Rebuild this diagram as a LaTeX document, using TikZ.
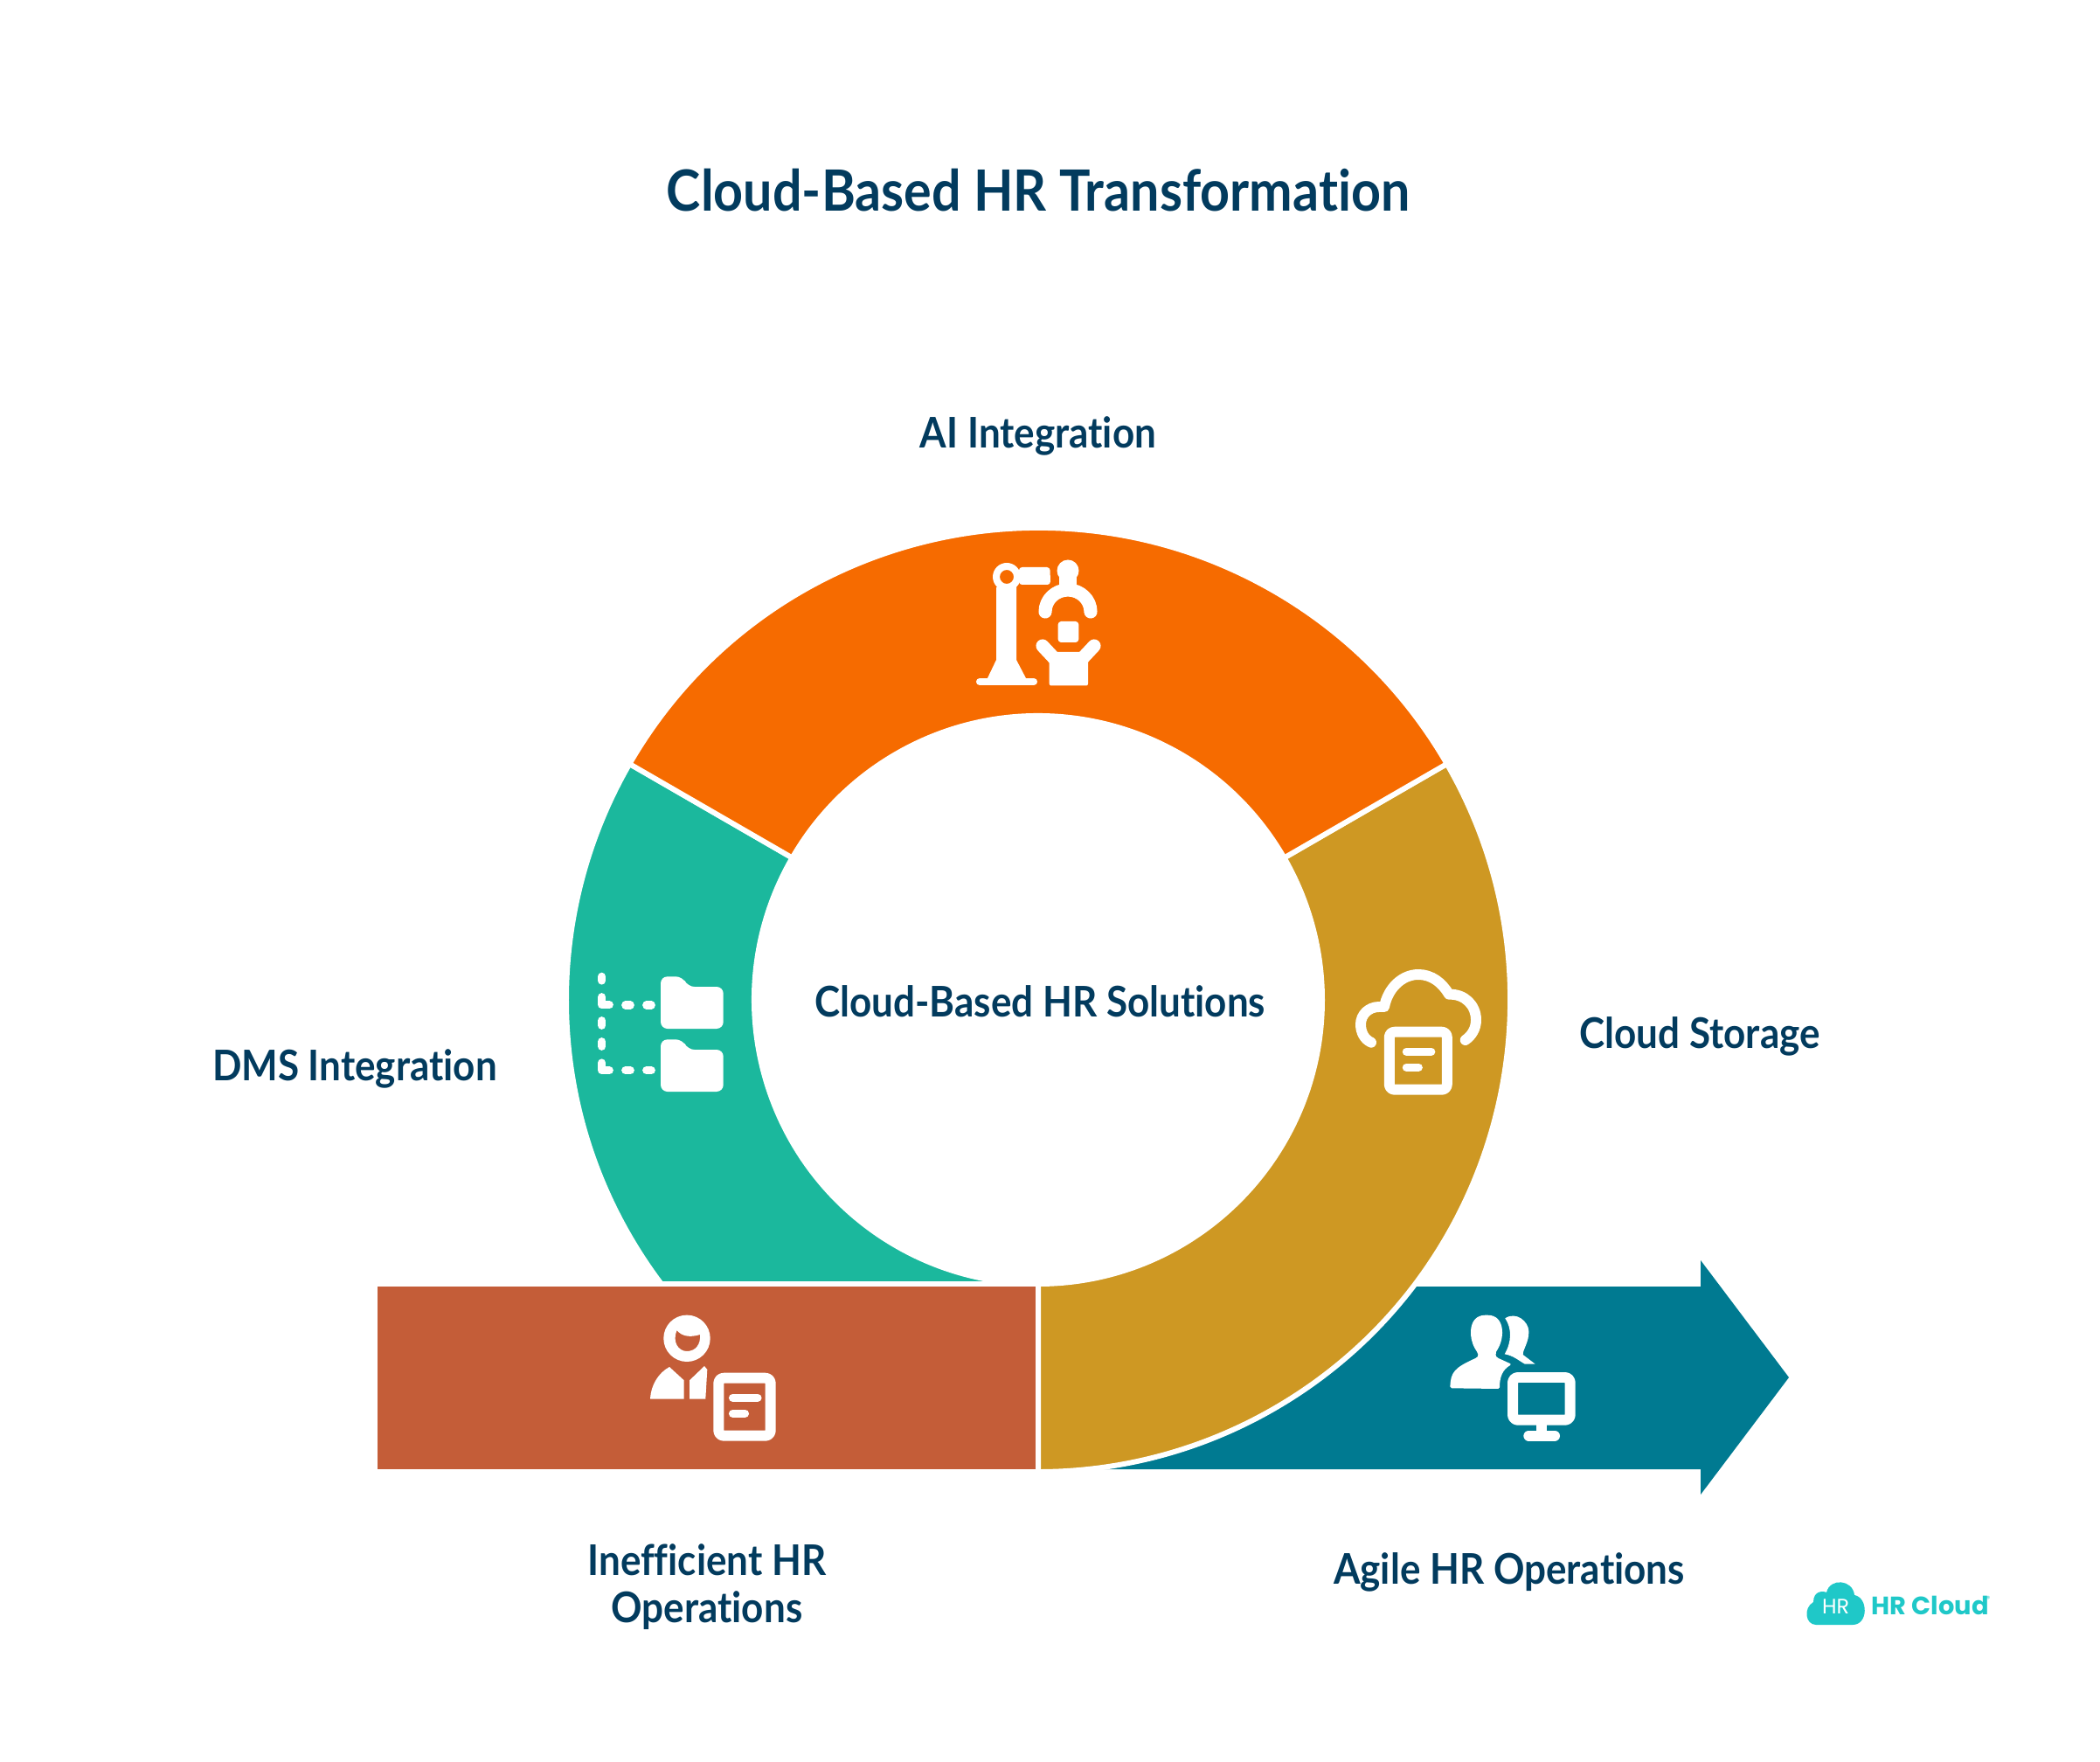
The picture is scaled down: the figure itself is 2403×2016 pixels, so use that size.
\documentclass[tikz,border=0pt]{standalone}
\usepackage{fontspec}
\setmainfont{Lato}[Ligatures=NoCommon,FakeStretch=0.91]
\newfontfamily\logofont{Poppins}
\newfontfamily\logobold{Poppins}[FakeBold=3]
\usetikzlibrary{calc}
\definecolor{navy}{HTML}{023B5E}
\definecolor{ringorange}{HTML}{F66B00}
\definecolor{ringteal}{HTML}{1BB89D}
\definecolor{ringgold}{HTML}{CE9823}
\definecolor{startred}{HTML}{C45D38}
\definecolor{endblue}{HTML}{007A91}
\definecolor{logoteal}{HTML}{1FC8C8}
\def\ringsector[#1](#2:#3){\draw[#1] ($(1188,1144)+({540*cos(#2)},{540*sin(#2)})$) arc (#2:#3:540) -- ($(1188,1144)+({325*cos(#3)},{325*sin(#3)})$) arc (#3:#2:325) -- cycle;}
\newcommand{\docicon}[3]{
	\draw[iconthick,rounded corners=1.7pt] ({#1-#3},{#2-33}) rectangle ({#1+#3},{#2+33});
	\draw[iconthin] ({#1-13.5},{#2-10.5}) -- ({#1+15},{#2-10.5});
	\draw[iconthin] ({#1-13.5},{#2+7.5}) -- ({#1+0.5},{#2+7.5});
}
\newcommand{\foldericon}[2]{
	\fill[white,rounded corners=2.2pt] (#1,{#2+59.7}) -- (#1,#2) -- ({#1+25},#2) -- ({#1+31},{#2+11.7}) -- ({#1+71.7},{#2+11.7}) -- ({#1+71.7},{#2+59.7}) -- cycle;
}
\tikzset{
	segment/.style={draw=white,line width=1.7pt,line join=round},
	label/.style={font=\fontsize{13.75}{15.4}\selectfont\bfseries,text=navy,align=center,inner sep=0pt},
	iconthick/.style={draw=white,line width=3.4pt,line cap=round,line join=round},
	iconthin/.style={draw=white,line width=2.6pt,line cap=round,line join=round},
	iconflap/.style={draw=white,line width=4.3pt,line cap=round,line join=round},
}
\begin{document}
\begin{tikzpicture}[x=0.01cm,y=-0.01cm]
	\useasboundingbox (0,0) rectangle (2403,2016);
	%%%%% ARROW %%%%%
	\fill[endblue] (1188,1472) -- (1946,1472) -- (1946,1442) -- (2047,1576) -- (1946,1710) -- (1946,1681) -- (1188,1681) -- cycle;
	
	%%%%% RING %%%%%
	\ringsector[segment,fill=ringteal](90:210)
	\draw[segment,fill=startred] (429,1469) rectangle (1188,1684);
	\ringsector[segment,fill=ringgold](-30:90)
	\ringsector[segment,fill=ringorange](-150:-30)
	
	%%%%% TEXT %%%%%
	\node[label,font=\fontsize{18.5}{22}\selectfont\bfseries] (title) at (1188,218) {Cloud-Based HR Transformation};
	\node[label] (ai) at (1188,499) {AI Integration};
	\node[label] (centre) at (1190,1146) {Cloud-Based HR Solutions};
	\node[label] (storage) at (1945,1186) {Cloud Storage};
	\node[label] (dms) at (406,1223) {DMS Integration};
	\node[label] (start) at (809,1816) {Inefficient HR\\Operations};
	\node[label] (finish) at (1727,1799) {Agile HR Operations};
	
	%%%%% ROBOT %%%%%
	\fill[white] (1140,672) -- (1163,672) -- (1163,755) -- (1175,778) -- (1129,778) -- (1140,755) -- cycle;
	\fill[white,rounded corners=1pt] (1166,649) -- (1201.5,649) -- (1202,669) -- (1166,669) -- cycle;
	\draw[iconflap,line width=2.3pt] (1121,780) -- (1183,780);
	\fill[white,even odd rule] (1152,660) circle (16) (1152,660) circle (8);
	\fill[white] (1222,653) circle (12.5);
	\fill[white] (1212,655) rectangle (1232,680);
	\draw[iconflap,line cap=round] (1196,700) arc (180:360:26 and 25);
	\fill[white,rounded corners=1pt] (1210.7,711) rectangle (1234.3,735);
	\fill[white,rounded corners=0.6pt] (1200.7,746) rectangle (1245,784.5);
	\draw[iconflap] (1193,739) -- (1207,754);
	\draw[iconflap] (1252,739) -- (1238,754);
	
	%%%%% FOLDERS %%%%%
	\draw[iconthin] (688.7,1117.3) -- (688.7,1122);
	\draw[iconthin] (688.7,1140.7) -- (688.7,1149.7) -- (697.3,1149.7);
	\draw[iconthin] (715.7,1150) -- (721.3,1150);
	\draw[iconthin] (739.7,1150) -- (745.3,1150);
	\draw[iconthin] (688.7,1167.7) -- (688.7,1173.3);
	\draw[iconthin] (688.7,1191.7) -- (688.7,1197.3);
	\draw[iconthin] (688.7,1216) -- (688.7,1224.7) -- (697.3,1224.7);
	\draw[iconthin] (715.7,1224.7) -- (721.3,1224.7);
	\draw[iconthin] (739.7,1224.7) -- (745.3,1224.7);
	\foldericon{756}{1117.3}
	\foldericon{756}{1189.3}
	
	%%%%% CLOUD %%%%%
	\draw[iconthick] (1569,1192.7) .. controls (1561,1189) and (1557,1181) .. (1557,1172) .. controls (1557,1161) and (1566,1152) .. (1578,1152) -- (1584,1152) .. controls (1588,1131) and (1604,1115) .. (1623,1115) .. controls (1638,1115) and (1650,1124) .. (1658,1137.7) .. controls (1676,1137) and (1689,1150) .. (1689,1167) .. controls (1689,1177) and (1684,1185) .. (1676.7,1190);
	\docicon{1622.8}{1213.7}{33}
	
	%%%%% PERSON %%%%%
	\fill[white,even odd rule] (786,1531.3) circle (26.7) (774.5,1522) .. controls (781,1530) and (791,1530) .. (801,1527) .. controls (802,1538) and (796,1546) .. (786,1546) .. controls (776,1546) and (769,1535) .. (774.5,1522) -- cycle;
	\fill[white] (744,1600) .. controls (745,1585) and (753,1571) .. (766,1564) -- (782.7,1579.3) -- (782.7,1600.7) -- (744,1600.7) -- cycle;
	\fill[white] (789,1579.3) -- (806,1563) -- (809.3,1567) -- (807.3,1600.7) -- (789,1600.7) -- cycle;
	\docicon{852}{1609.7}{29.7}
	
	%%%%% USERS %%%%%
	\fill[white,rounded corners=0.5pt] (1659.3,1588.3) .. controls (1660,1570) and (1664,1565) .. (1690,1553.3) .. controls (1692,1551) and (1691,1548) .. (1689,1545) .. controls (1680,1530) and (1680,1505) .. (1701,1504.7) .. controls (1722,1505) and (1722,1530) .. (1713,1545) .. controls (1711,1548) and (1712,1552) .. (1713,1553.3) -- (1730,1561) .. controls (1719,1567) and (1716,1576) .. (1716,1589) -- cycle;
	\fill[white] (1722.3,1508.3) .. controls (1735,1500) and (1749,1512) .. (1749.3,1523) .. controls (1750,1535) and (1742,1545) .. (1742.7,1550) -- (1756.7,1560.7) -- (1745,1560.7) .. controls (1738,1557) and (1732,1551) .. (1721.7,1549.3) .. controls (1730,1535) and (1730,1520) .. (1722.3,1508.3) -- cycle;
	\draw[iconthick,rounded corners=1.7pt] (1731,1576) rectangle (1796.7,1624.7);
	\draw[iconthick] (1764,1626) -- (1764,1642);
	\draw[iconthick] (1749.3,1642.7) -- (1779,1642.7);
	
	%%%%% LOGO %%%%%
	\fill[logoteal] (2078,1859) .. controls (2066,1859) and (2063,1840) .. (2075,1833) .. controls (2075,1820) and (2086,1820) .. (2090,1822) .. controls (2094,1805) and (2120,1807) .. (2122,1825) .. controls (2138,1828) and (2138,1859) .. (2120,1859) -- cycle;
	\node[inner sep=0pt,text=white,font=\logofont\fontsize{6.8}{8}\selectfont] (logomark) at (2100.7,1837.7) {HR};
	\node[inner sep=0pt,anchor=west,text=logoteal,font=\logofont\fontsize{8.2}{10}\selectfont\bfseries] (logotext) at (2141,1837) {HR Cloud};
	\node[inner sep=0pt,text=logoteal,font=\logofont\fontsize{2.5}{3}\selectfont] (logomark2) at (2275,1829) {®};
\end{tikzpicture}
\end{document}
